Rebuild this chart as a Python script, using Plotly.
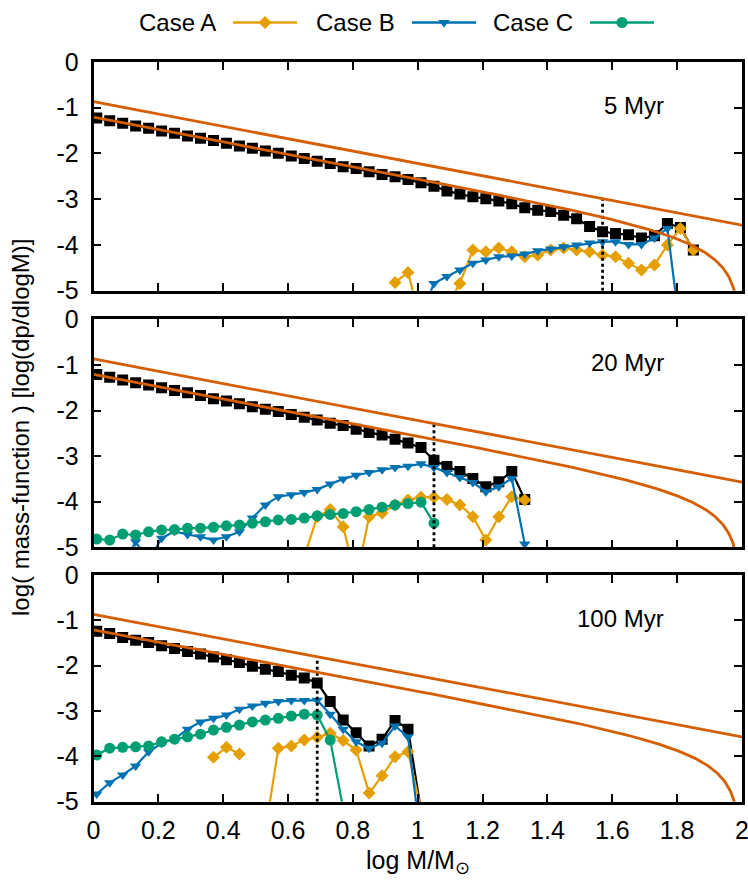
import numpy as np
import plotly.graph_objects as go

# ---------------------------------------------------------------------------
# Mass bins (log M/Msun, bin centres) shared by every series
LOGM = [round(0.01 + 0.04 * k, 2) for k in range(47)]

AGES = ["5 Myr", "20 Myr", "100 Myr"]
TURNOFF = [1.57, 1.05, 0.69]          # log M of the turn-off mass per age

# Total mass function (black squares); None = no stars in bin
TOTAL_5 = [-1.23, -1.29, -1.34, -1.40, -1.45, -1.51, -1.56, -1.62, -1.67, -1.72,
           -1.78, -1.84, -1.89, -1.95, -2.00, -2.06, -2.11, -2.17, -2.22, -2.29,
           -2.33, -2.40, -2.46, -2.51, -2.57, -2.64, -2.72, -2.82, -2.89, -2.95,
           -2.99, -3.04, -3.10, -3.19, -3.24, -3.27, -3.35, -3.43, -3.60, -3.71,
           -3.75, -3.78, -3.85, -3.80, -3.53, -3.62, -4.11]
TOTAL_20 = [-1.21, -1.27, -1.33, -1.39, -1.44, -1.50, -1.56, -1.61, -1.67, -1.74,
            -1.79, -1.85, -1.92, -1.97, -2.02, -2.09, -2.15, -2.21, -2.28, -2.33,
            -2.41, -2.48, -2.54, -2.63, -2.71, -2.81, -3.09, -3.23, -3.34, -3.49,
            -3.67, -3.56, -3.34, -3.95] + [None] * 13
TOTAL_100 = [-1.24, -1.29, -1.38, -1.44, -1.49, -1.56, -1.62, -1.69, -1.74, -1.81,
             -1.87, -1.93, -2.01, -2.08, -2.13, -2.21, -2.27, -2.38, -2.79, -3.20,
             -3.48, -3.77, -3.62, -3.21, -3.40, -5.20] + [None] * 21

# Case A
CASE_A_5 = [None] * 23 + [-4.82, -4.60, -5.70, -6.00, -5.35, -4.84, -4.11, -4.15,
                          -4.07, -4.15, -4.26, -4.22, -4.11, -4.07, -4.11, -4.15,
                          -4.22, -4.26, -4.40, -4.55, -4.44, -4.00, -3.64, -4.11]
CASE_A_20 = [None] * 16 + [-5.20, -4.33, -4.17, -4.55, -5.70, -4.33, -4.25, -4.07,
                           -3.96, -3.90, -3.90, -3.95, -4.07, -4.33, -4.84, -4.33,
                           -3.89, -3.96] + [None] * 13
CASE_A_100 = [None] * 9 + [-4.02, -3.80, -3.95, None, -5.65, -3.82, -3.77, -3.64,
                           -3.58, -3.49, -3.65, -3.86, -4.81, -4.43, -4.01, -3.90,
                           -5.17] + [None] * 21

# Case B
CASE_B_5 = [None] * 25 + [-5.55, -4.84, -4.69, -4.55, -4.40, -4.33, -4.26, -4.24,
                          -4.20, -4.13, -4.09, -4.04, -4.00, -3.96, -3.93, -3.93,
                          -3.99, -3.99, -3.85, -3.64, -5.90, None]
CASE_B_20 = [-5.50, -5.05, -5.40, -4.88, -5.30, -4.80, -4.65, -4.72, -4.77, -4.84,
             -4.77, -4.66, -4.36, -4.07, -3.89, -3.85, -3.80, -3.73, -3.61, -3.50,
             -3.42, -3.36, -3.30, -3.25, -3.22, -3.17, -3.25, -3.36, -3.47, -3.58,
             -3.78, -3.67, -3.49, -4.93] + [None] * 13
CASE_B_100 = [-4.83, -4.58, -4.41, -4.21, -3.90, -3.71, -3.62, -3.40, -3.24, -3.16,
              -3.09, -2.96, -2.89, -2.83, -2.79, -2.77, -2.77, -2.76, -3.07, -3.40,
              -3.68, -3.82, -3.71, -3.33, -3.57, -5.90] + [None] * 21

# Case C
CASE_C_5 = [None] * 47
CASE_C_20 = [-4.82, -4.84, -4.71, -4.73, -4.66, -4.62, -4.61, -4.58, -4.58, -4.56,
             -4.53, -4.51, -4.47, -4.44, -4.40, -4.39, -4.36, -4.31, -4.28, -4.26,
             -4.22, -4.17, -4.12, -4.07, -4.04, -4.01, -4.47] + [None] * 20
CASE_C_100 = [-3.97, -3.82, -3.80, -3.79, -3.77, -3.68, -3.62, -3.57, -3.51, -3.42,
              -3.36, -3.31, -3.24, -3.20, -3.16, -3.11, -3.07, -3.09, -3.64,
              -5.15] + [None] * 27

TOTAL = [TOTAL_5, TOTAL_20, TOTAL_100]
CASE_A = [CASE_A_5, CASE_A_20, CASE_A_100]
CASE_B = [CASE_B_5, CASE_B_20, CASE_B_100]
CASE_C = [CASE_C_5, CASE_C_20, CASE_C_100]

# Axis ticks
X_TICKS = [0, 0.2, 0.4, 0.6, 0.8, 1.0, 1.2, 1.4, 1.6, 1.8, 2.0]
X_TICK_LABELS = ["0", "0.2", "0.4", "0.6", "0.8", "1", "1.2", "1.4", "1.6", "1.8", "2"]
Y_TICKS = [0, -1, -2, -3, -4, -5]
Y_TICK_LABELS = ["0", "-1", "-2", "-3", "-4", "-5"]

# Salpeter-type reference IMF lines
SLOPE = -1.35
UPPER_ZERO = -0.87
LOWER_ZERO = -1.21
LOG_MMAX = 1.993


def imf_upper(x):
    return UPPER_ZERO + SLOPE * np.asarray(x)


def imf_lower(x):
    x = np.asarray(x)
    return LOWER_ZERO + SLOPE * x + np.log10(1.0 - 10 ** (2.0 * (x - LOG_MMAX)))


# ---------------------------------------------------------------------------
W, H = 748, 882
AREA_H = 802                       # plot-area height (bottom margin holds x labels)
X0, X1 = 93.5, 742.0               # panel left/right edges in px
PANELS_PX = [(61.8, 290.7), (319.3, 547.3), (575.0, 801.7)]

COL_A, COL_B, COL_C = "#E69F00", "#0072B2", "#009E73"
COL_IMF = "#D55E00"
FONT = "Liberation Sans, Arial, Helvetica, sans-serif"
FS_TICK = 25
FS_TEXT = 24

fig = go.Figure()

for i in range(3):
    xa = "x" if i == 0 else f"x{i + 1}"
    ya = "y" if i == 0 else f"y{i + 1}"
    common = dict(xaxis=xa, yaxis=ya, showlegend=False)

    fig.add_trace(go.Scatter(x=LOGM, y=TOTAL[i], mode="lines+markers",
                             line=dict(color="black", width=2.2),
                             marker=dict(symbol="square", size=11, color="black"),
                             **common))
    fig.add_trace(go.Scatter(x=LOGM, y=CASE_A[i], mode="lines+markers",
                             line=dict(color=COL_A, width=2.2),
                             marker=dict(symbol="diamond", size=10, color=COL_A),
                             **common))
    fig.add_trace(go.Scatter(x=LOGM, y=CASE_B[i], mode="lines+markers",
                             line=dict(color=COL_B, width=2.2),
                             marker=dict(symbol="triangle-down", size=10, color=COL_B),
                             **common))
    fig.add_trace(go.Scatter(x=LOGM, y=CASE_C[i], mode="lines+markers",
                             line=dict(color=COL_C, width=2.2),
                             marker=dict(symbol="circle", size=11, color=COL_C),
                             **common))

    # turn-off mass marker: dotted line up to the upper IMF line
    t = TURNOFF[i]
    fig.add_trace(go.Scatter(x=[t, t], y=[-5, float(imf_upper(t))], mode="lines",
                             line=dict(color="black", width=2.8, dash="dot"),
                             **common))

    xs = np.linspace(0, 2, 500)
    fig.add_trace(go.Scatter(x=xs, y=imf_upper(xs), mode="lines",
                             line=dict(color=COL_IMF, width=2.8), **common))
    xl = np.linspace(0, LOG_MMAX - 1e-4, 800)
    fig.add_trace(go.Scatter(x=xl, y=imf_lower(xl), mode="lines",
                             line=dict(color=COL_IMF, width=2.8), **common))

    top, bot = PANELS_PX[i]
    xaxis = dict(domain=[X0 / W, X1 / W], range=[0, 2], anchor=ya,
                 tickvals=X_TICKS, ticktext=X_TICK_LABELS,
                 showticklabels=(i == 2), ticks="inside", ticklen=8, tickwidth=2,
                 tickcolor="black", showline=True, linewidth=2.5, linecolor="black",
                 mirror="ticks", showgrid=False, zeroline=False, automargin=False,
                 ticklabeloverflow="allow",
                 tickfont=dict(family=FONT, size=FS_TICK, color="black"),
                 ticklabelstandoff=5)
    yaxis = dict(domain=[(AREA_H - bot) / AREA_H, (AREA_H - top) / AREA_H],
                 range=[-5, 0], anchor=xa,
                 tickvals=Y_TICKS, ticktext=Y_TICK_LABELS,
                 ticks="inside", ticklen=8, tickwidth=2, tickcolor="black",
                 showline=True, linewidth=2.5, linecolor="black", mirror="ticks",
                 showgrid=False, zeroline=False, automargin=False,
                 ticklabeloverflow="allow",
                 tickfont=dict(family=FONT, size=FS_TICK, color="black"),
                 ticklabelstandoff=7)
    fig.update_layout({f"xaxis{'' if i == 0 else i + 1}": xaxis,
                       f"yaxis{'' if i == 0 else i + 1}": yaxis})

    fig.add_annotation(x=1.765, y=-0.95, xref=xa, yref=ya, text=AGES[i],
                       showarrow=False, xanchor="right", yanchor="middle",
                       font=dict(family=FONT, size=FS_TEXT, color="black"))

# Legend key drawn in a pixel-space overlay (label text precedes the sample)
fig.update_layout(
    xaxis4=dict(domain=[0, 1], range=[0, W], visible=False, fixedrange=True,
                automargin=False),
    yaxis4=dict(domain=[0, 1], range=[AREA_H, 0], visible=False, fixedrange=True,
                anchor="x4", automargin=False),
)
LEGEND_NAMES = ["Case A", "Case B", "Case C"]
LEGEND_STYLE = [(COL_A, "diamond", 10), (COL_B, "triangle-down", 10), (COL_C, "circle", 11)]
LEGEND_TEXT_RIGHT = [218, 397, 575]
KEY_Y = 22.5
for name, (col, sym, size), xr in zip(LEGEND_NAMES, LEGEND_STYLE, LEGEND_TEXT_RIGHT):
    fig.add_annotation(x=xr, y=KEY_Y, xref="x4", yref="y4", text=name, showarrow=False,
                       xanchor="right", yanchor="middle",
                       font=dict(family=FONT, size=FS_TEXT, color="black"))
    fig.add_trace(go.Scatter(x=[xr + 15, xr + 79], y=[KEY_Y, KEY_Y], mode="lines",
                             line=dict(color=col, width=2.5), xaxis="x4", yaxis="y4",
                             showlegend=False, hoverinfo="skip"))
    fig.add_trace(go.Scatter(x=[xr + 47], y=[KEY_Y], mode="markers",
                             marker=dict(symbol=sym, size=size, color=col),
                             xaxis="x4", yaxis="y4", showlegend=False, hoverinfo="skip"))

# Axis titles
fig.add_annotation(x=20, y=428, xref="x4", yref="y4",
                   text="log( mass-function ) [log(dp/dlogM)]", textangle=-90,
                   showarrow=False, xanchor="center", yanchor="middle",
                   font=dict(family=FONT, size=FS_TEXT, color="black"))
fig.add_annotation(x=0.5 * (X0 + X1) / W, y=-(844 - AREA_H) / AREA_H, xref="paper",
                   yref="paper", text="log M/M<sub>⊙</sub>", showarrow=False,
                   xanchor="center", yanchor="top",
                   font=dict(family=FONT, size=FS_TICK, color="black"))

fig.update_layout(width=W, height=H,
                  margin=dict(l=0, r=0, t=0, b=H - AREA_H, pad=0, autoexpand=False),
                  paper_bgcolor="white", plot_bgcolor="rgba(0,0,0,0)",
                  showlegend=False, font=dict(family=FONT, size=FS_TEXT, color="black"))

fig.write_html("out.html")
